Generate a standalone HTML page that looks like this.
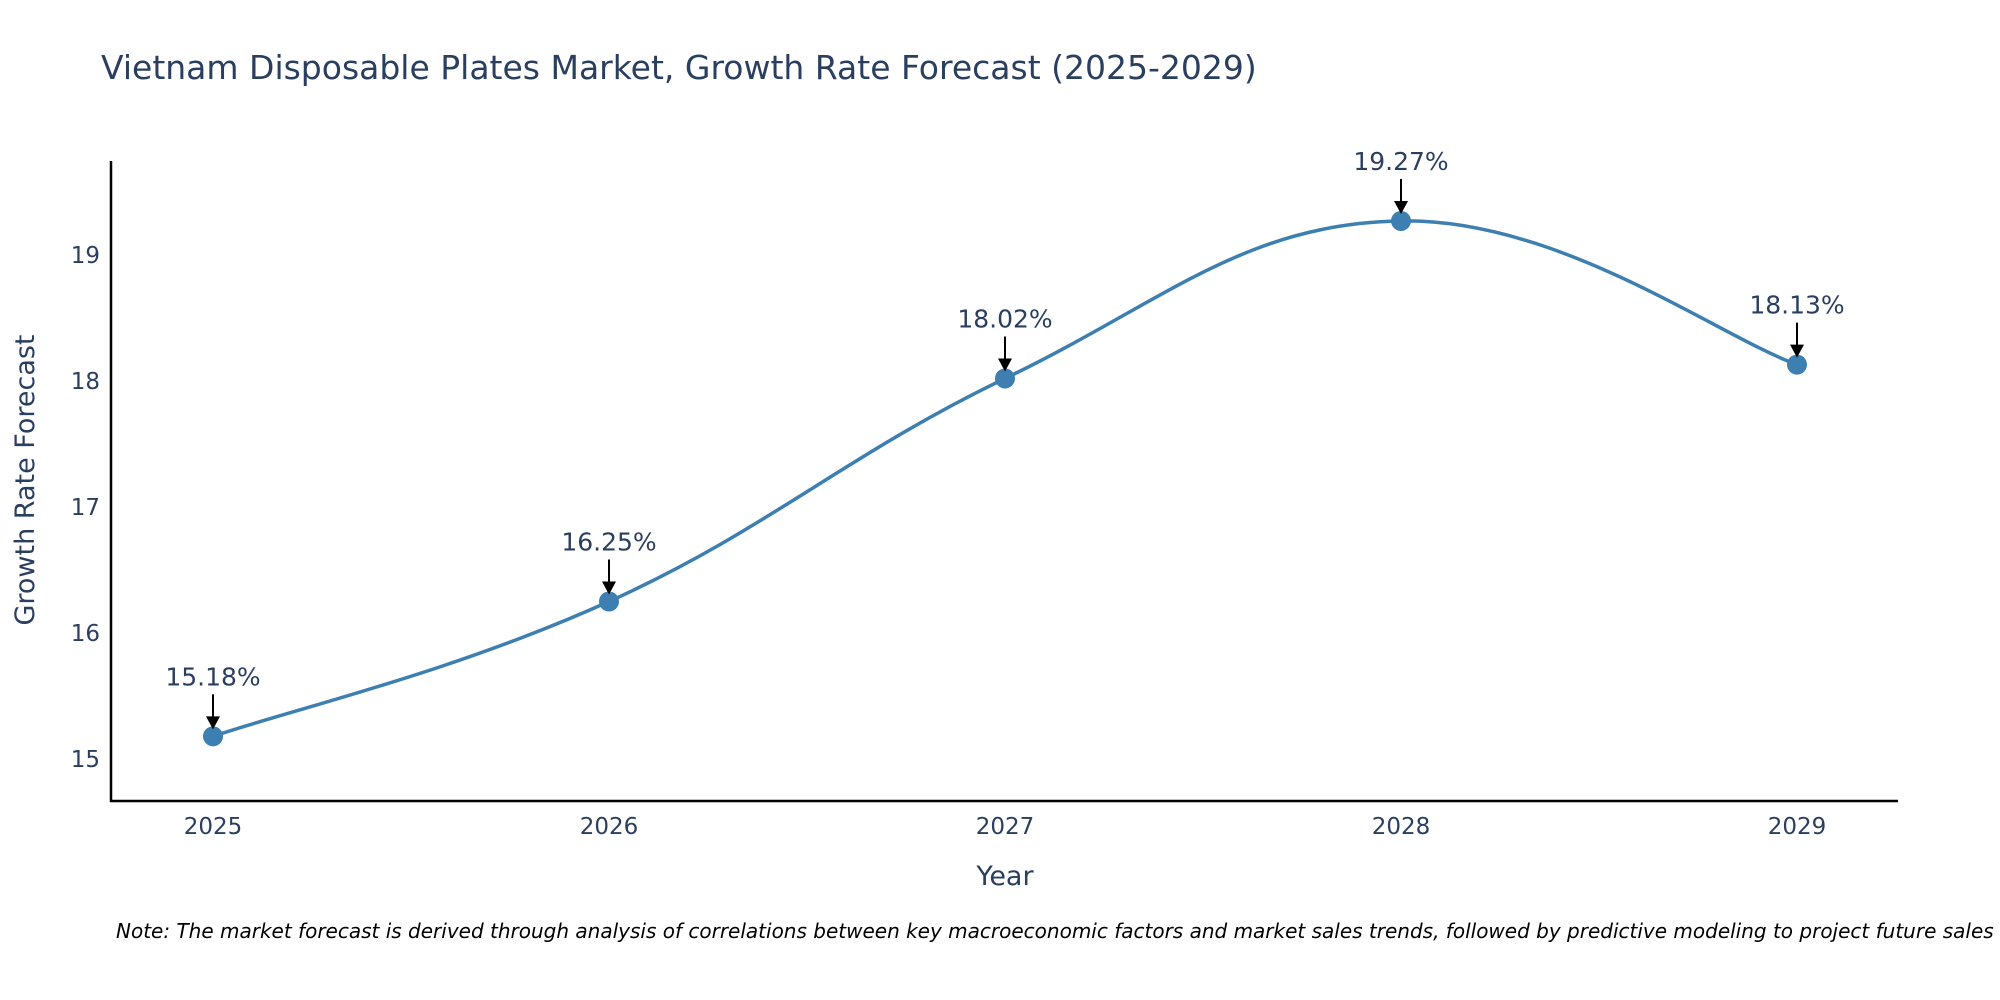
<!DOCTYPE html>
<html><head><meta charset="utf-8"><style>
body{margin:0;background:#fff;}
svg{display:block;font-family:"DejaVu Sans","Liberation Sans",sans-serif;}
</style></head><body>
<svg id="chart" width="2000" height="1000">
<text x="101" y="79" font-size="33" fill="#2a3f5f">Vietnam Disposable Plates Market, Growth Rate Forecast (2025-2029)</text>
<line x1="111" y1="161" x2="111" y2="802" stroke="#000" stroke-width="2.5"/>
<line x1="110" y1="801" x2="1898" y2="801" stroke="#000" stroke-width="2.5"/>
<g id="yticks"></g><g id="xticks"></g>
<text transform="translate(34,480) rotate(-90)" text-anchor="middle" font-size="27" fill="#2a3f5f">Growth Rate Forecast</text>
<text x="1005" y="885" text-anchor="middle" font-size="27" fill="#2a3f5f">Year</text>
<path id="line" fill="none" stroke="#3d7fb0" stroke-width="3.5"/>
<g id="marks"></g>
<text x="116" y="938" font-size="20" font-style="italic" fill="#000">Note: The market forecast is derived through analysis of correlations between key macroeconomic factors and market sales trends, followed by predictive modeling to project future sales</text>
</svg>
<script>
const years = [2025, 2026, 2027, 2028, 2029];
const values = [15.18, 16.25, 18.02, 19.27, 18.13];
const yTickVals = [15, 16, 17, 18, 19];
const ns = "http://www.w3.org/2000/svg";
function xs(i){ return 213 + (years[i]-years[0])*(1797-213)/(years[years.length-1]-years[0]); }
function ys(v){ return 759 - (v-15)*126; }
function mk(tag, attrs, parent){ const e=document.createElementNS(ns,tag); for(const k in attrs) e.setAttribute(k,attrs[k]); parent.appendChild(e); return e; }
const yt=document.getElementById('yticks');
yTickVals.forEach(v=>{
  const t=mk('text',{x:100,y:ys(v)+8,'text-anchor':'end','font-size':23,fill:'#2a3f5f'},yt);
  
  
  t.textContent=v;
});
const xt=document.getElementById('xticks');
years.forEach((y,i)=>{
  const t=mk('text',{x:xs(i),y:834,'text-anchor':'middle','font-size':23,fill:'#2a3f5f'},xt);
  
  
  t.textContent=y;
});
const P=values.map((v,i)=>[xs(i),ys(v)]);
let d=`M${P[0][0]},${P[0][1]}`;
const k=0.2;
for(let i=0;i<P.length-1;i++){
  const p0=P[Math.max(i-1,0)],p1=P[i],p2=P[i+1],p3=P[Math.min(i+2,P.length-1)];
  const c1=[p1[0]+(p2[0]-p0[0])*k,p1[1]+(p2[1]-p0[1])*k];
  const c2=[p2[0]-(p3[0]-p1[0])*k,p2[1]-(p3[1]-p1[1])*k];
  d+=` C${c1[0]},${c1[1]} ${c2[0]},${c2[1]} ${p2[0]},${p2[1]}`;
}
document.getElementById('line').setAttribute('d',d);
const g=document.getElementById('marks');
P.forEach((p,i)=>{
  const c=mk('circle',{cx:p[0],cy:p[1],r:10,fill:'#3d7fb0'},g);
  
  
  const l=mk('line',{x1:p[0],y1:p[1]-42,x2:p[0],y2:p[1]-18,stroke:'#000','stroke-width':2},g);
  
  
  const a=mk('polygon',{points:`${p[0]-7},${p[1]-20} ${p[0]+7},${p[1]-20} ${p[0]},${p[1]-7}`,fill:'#000'},g);
  
  
  const t=mk('text',{x:p[0],y:p[1]-51,'text-anchor':'middle','font-size':25,fill:'#2a3f5f'},g);
  
  
  t.textContent=values[i].toFixed(2)+'%';
});
</script>
</body></html>
